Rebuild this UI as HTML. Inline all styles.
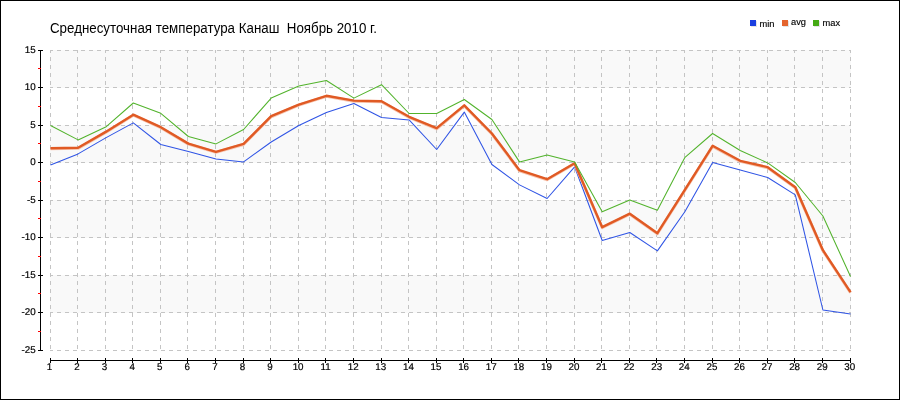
<!DOCTYPE html>
<html><head><meta charset="utf-8"><title>Среднесуточная температура Канаш Ноябрь 2010 г.</title>
<style>
html,body{margin:0;padding:0;background:#fff;}
body{width:900px;height:400px;overflow:hidden;}
svg{display:block;}
text{font-family:"Liberation Sans",sans-serif;fill:#000;}
.t{font-size:13.8px;}
.a{font-size:9.8px;stroke:#000;stroke-width:0.2px;text-rendering:geometricPrecision;}
.l{font-size:9.3px;stroke:#000;stroke-width:0.15px;}
</style></head><body>
<svg width="900" height="400" viewBox="0 0 900 400">
<rect x="0" y="0" width="900" height="400" fill="#fff"/>
<rect x="0.5" y="0.5" width="899" height="399" fill="none" stroke="#000" stroke-width="1" shape-rendering="crispEdges"/>

<rect x="50" y="50.0" width="801" height="37.5" fill="#f9f9f9" shape-rendering="crispEdges"/>
<rect x="50" y="125.0" width="801" height="37.5" fill="#f9f9f9" shape-rendering="crispEdges"/>
<rect x="50" y="200.0" width="801" height="37.5" fill="#f9f9f9" shape-rendering="crispEdges"/>
<rect x="50" y="275.0" width="801" height="37.5" fill="#f9f9f9" shape-rendering="crispEdges"/>
<g stroke="#c4c4c4" stroke-width="1" stroke-dasharray="4 4" stroke-dashoffset="1" shape-rendering="crispEdges" fill="none">
<line x1="50" y1="50.5" x2="851" y2="50.5"/>
<line x1="50" y1="87.5" x2="851" y2="87.5"/>
<line x1="50" y1="125.5" x2="851" y2="125.5"/>
<line x1="50" y1="162.5" x2="851" y2="162.5"/>
<line x1="50" y1="200.5" x2="851" y2="200.5"/>
<line x1="50" y1="237.5" x2="851" y2="237.5"/>
<line x1="50" y1="275.5" x2="851" y2="275.5"/>
<line x1="50" y1="312.5" x2="851" y2="312.5"/>
<line x1="50" y1="350.5" x2="851" y2="350.5"/>
<line x1="50.5" y1="50" x2="50.5" y2="351"/>
<line x1="77.5" y1="50" x2="77.5" y2="351"/>
<line x1="105.5" y1="50" x2="105.5" y2="351"/>
<line x1="132.5" y1="50" x2="132.5" y2="351"/>
<line x1="160.5" y1="50" x2="160.5" y2="351"/>
<line x1="187.5" y1="50" x2="187.5" y2="351"/>
<line x1="215.5" y1="50" x2="215.5" y2="351"/>
<line x1="243.5" y1="50" x2="243.5" y2="351"/>
<line x1="270.5" y1="50" x2="270.5" y2="351"/>
<line x1="298.5" y1="50" x2="298.5" y2="351"/>
<line x1="325.5" y1="50" x2="325.5" y2="351"/>
<line x1="353.5" y1="50" x2="353.5" y2="351"/>
<line x1="381.5" y1="50" x2="381.5" y2="351"/>
<line x1="408.5" y1="50" x2="408.5" y2="351"/>
<line x1="436.5" y1="50" x2="436.5" y2="351"/>
<line x1="463.5" y1="50" x2="463.5" y2="351"/>
<line x1="491.5" y1="50" x2="491.5" y2="351"/>
<line x1="518.5" y1="50" x2="518.5" y2="351"/>
<line x1="546.5" y1="50" x2="546.5" y2="351"/>
<line x1="574.5" y1="50" x2="574.5" y2="351"/>
<line x1="601.5" y1="50" x2="601.5" y2="351"/>
<line x1="629.5" y1="50" x2="629.5" y2="351"/>
<line x1="656.5" y1="50" x2="656.5" y2="351"/>
<line x1="684.5" y1="50" x2="684.5" y2="351"/>
<line x1="712.5" y1="50" x2="712.5" y2="351"/>
<line x1="739.5" y1="50" x2="739.5" y2="351"/>
<line x1="767.5" y1="50" x2="767.5" y2="351"/>
<line x1="794.5" y1="50" x2="794.5" y2="351"/>
<line x1="822.5" y1="50" x2="822.5" y2="351"/>
<line x1="850.5" y1="50" x2="850.5" y2="351"/>
</g>
<g stroke="#000" stroke-width="1" shape-rendering="crispEdges">
<line x1="40.5" y1="50" x2="40.5" y2="351"/>
<line x1="38" y1="50.5" x2="43" y2="50.5"/>
<line x1="38" y1="87.5" x2="43" y2="87.5"/>
<line x1="38" y1="125.5" x2="43" y2="125.5"/>
<line x1="38" y1="162.5" x2="43" y2="162.5"/>
<line x1="38" y1="200.5" x2="43" y2="200.5"/>
<line x1="38" y1="237.5" x2="43" y2="237.5"/>
<line x1="38" y1="275.5" x2="43" y2="275.5"/>
<line x1="38" y1="312.5" x2="43" y2="312.5"/>
<line x1="38" y1="350.5" x2="43" y2="350.5"/>
<line x1="50" y1="360.5" x2="851" y2="360.5"/>
<line x1="50.5" y1="358" x2="50.5" y2="363"/>
<line x1="77.5" y1="358" x2="77.5" y2="363"/>
<line x1="105.5" y1="358" x2="105.5" y2="363"/>
<line x1="132.5" y1="358" x2="132.5" y2="363"/>
<line x1="160.5" y1="358" x2="160.5" y2="363"/>
<line x1="187.5" y1="358" x2="187.5" y2="363"/>
<line x1="215.5" y1="358" x2="215.5" y2="363"/>
<line x1="243.5" y1="358" x2="243.5" y2="363"/>
<line x1="270.5" y1="358" x2="270.5" y2="363"/>
<line x1="298.5" y1="358" x2="298.5" y2="363"/>
<line x1="325.5" y1="358" x2="325.5" y2="363"/>
<line x1="353.5" y1="358" x2="353.5" y2="363"/>
<line x1="381.5" y1="358" x2="381.5" y2="363"/>
<line x1="408.5" y1="358" x2="408.5" y2="363"/>
<line x1="436.5" y1="358" x2="436.5" y2="363"/>
<line x1="463.5" y1="358" x2="463.5" y2="363"/>
<line x1="491.5" y1="358" x2="491.5" y2="363"/>
<line x1="518.5" y1="358" x2="518.5" y2="363"/>
<line x1="546.5" y1="358" x2="546.5" y2="363"/>
<line x1="574.5" y1="358" x2="574.5" y2="363"/>
<line x1="601.5" y1="358" x2="601.5" y2="363"/>
<line x1="629.5" y1="358" x2="629.5" y2="363"/>
<line x1="656.5" y1="358" x2="656.5" y2="363"/>
<line x1="684.5" y1="358" x2="684.5" y2="363"/>
<line x1="712.5" y1="358" x2="712.5" y2="363"/>
<line x1="739.5" y1="358" x2="739.5" y2="363"/>
<line x1="767.5" y1="358" x2="767.5" y2="363"/>
<line x1="794.5" y1="358" x2="794.5" y2="363"/>
<line x1="822.5" y1="358" x2="822.5" y2="363"/>
<line x1="850.5" y1="358" x2="850.5" y2="363"/>
</g>
<g stroke="#ff0000" stroke-width="1" shape-rendering="crispEdges">
<line x1="38" y1="68.5" x2="41" y2="68.5"/>
<line x1="38" y1="106.5" x2="41" y2="106.5"/>
<line x1="38" y1="143.5" x2="41" y2="143.5"/>
<line x1="38" y1="181.5" x2="41" y2="181.5"/>
<line x1="38" y1="218.5" x2="41" y2="218.5"/>
<line x1="38" y1="256.5" x2="41" y2="256.5"/>
<line x1="38" y1="293.5" x2="41" y2="293.5"/>
<line x1="38" y1="331.5" x2="41" y2="331.5"/>
</g>
<text class="a" x="35.7" y="53.0" text-anchor="end">15</text>
<text class="a" x="35.7" y="90.0" text-anchor="end">10</text>
<text class="a" x="35.7" y="128.0" text-anchor="end">5</text>
<text class="a" x="35.7" y="165.0" text-anchor="end">0</text>
<text class="a" x="35.7" y="203.0" text-anchor="end">-5</text>
<text class="a" x="35.7" y="240.0" text-anchor="end">-10</text>
<text class="a" x="35.7" y="278.0" text-anchor="end">-15</text>
<text class="a" x="35.7" y="315.0" text-anchor="end">-20</text>
<text class="a" x="35.7" y="353.0" text-anchor="end">-25</text>
<text class="a" x="49.4" y="370" text-anchor="middle">1</text>
<text class="a" x="77.0" y="370" text-anchor="middle">2</text>
<text class="a" x="104.6" y="370" text-anchor="middle">3</text>
<text class="a" x="132.2" y="370" text-anchor="middle">4</text>
<text class="a" x="159.7" y="370" text-anchor="middle">5</text>
<text class="a" x="187.3" y="370" text-anchor="middle">6</text>
<text class="a" x="214.9" y="370" text-anchor="middle">7</text>
<text class="a" x="242.5" y="370" text-anchor="middle">8</text>
<text class="a" x="270.1" y="370" text-anchor="middle">9</text>
<text class="a" x="298.1" y="370" text-anchor="middle">10</text>
<text class="a" x="325.7" y="370" text-anchor="middle">11</text>
<text class="a" x="353.2" y="370" text-anchor="middle">12</text>
<text class="a" x="380.8" y="370" text-anchor="middle">13</text>
<text class="a" x="408.4" y="370" text-anchor="middle">14</text>
<text class="a" x="436.0" y="370" text-anchor="middle">15</text>
<text class="a" x="463.6" y="370" text-anchor="middle">16</text>
<text class="a" x="491.2" y="370" text-anchor="middle">17</text>
<text class="a" x="518.8" y="370" text-anchor="middle">18</text>
<text class="a" x="546.4" y="370" text-anchor="middle">19</text>
<text class="a" x="573.9" y="370" text-anchor="middle">20</text>
<text class="a" x="601.5" y="370" text-anchor="middle">21</text>
<text class="a" x="629.1" y="370" text-anchor="middle">22</text>
<text class="a" x="656.7" y="370" text-anchor="middle">23</text>
<text class="a" x="684.3" y="370" text-anchor="middle">24</text>
<text class="a" x="711.9" y="370" text-anchor="middle">25</text>
<text class="a" x="739.5" y="370" text-anchor="middle">26</text>
<text class="a" x="767.0" y="370" text-anchor="middle">27</text>
<text class="a" x="794.6" y="370" text-anchor="middle">28</text>
<text class="a" x="822.2" y="370" text-anchor="middle">29</text>
<text class="a" x="849.8" y="370" text-anchor="middle">30</text>
<polyline points="50.5,164.9 78.1,153.9 105.7,137.9 133.3,122.9 160.8,144.5 188.4,151.5 216.0,158.9 243.6,161.9 271.2,142.0 298.8,125.5 326.4,112.5 353.9,103.5 381.5,117.5 409.1,119.9 436.7,149.5 464.3,112.1 491.9,164.5 519.5,184.9 547.1,198.5 574.6,166.8 602.2,240.5 629.8,232.5 657.4,250.9 685.0,211.5 712.6,162.5 740.2,169.9 767.7,177.5 795.3,194.9 822.9,310.0 850.5,314.0" fill="none" stroke="#2f54e5" stroke-width="1.05" stroke-linejoin="round"/>
<polyline points="50.5,148.5 78.1,148.1 105.7,132.2 133.3,115.0 160.8,127.5 188.4,143.9 216.0,152.1 243.6,144.2 271.2,116.5 298.8,104.9 326.4,96.1 353.9,100.9 381.5,101.5 409.1,117.1 436.7,128.5 464.3,105.6 491.9,133.8 519.5,170.5 547.1,179.5 574.6,163.5 602.2,227.5 629.8,214.0 657.4,233.5 685.0,190.0 712.6,146.1 740.2,161.1 767.7,167.5 795.3,187.5 822.9,250.5 850.5,292.5" fill="none" stroke="#f7c4ae" stroke-width="2.9" stroke-linejoin="round" transform="translate(0,0.3)"/>
<polyline points="50.5,148.5 78.1,148.1 105.7,132.2 133.3,115.0 160.8,127.5 188.4,143.9 216.0,152.1 243.6,144.2 271.2,116.5 298.8,104.9 326.4,96.1 353.9,100.9 381.5,101.5 409.1,117.1 436.7,128.5 464.3,105.6 491.9,133.8 519.5,170.5 547.1,179.5 574.6,163.5 602.2,227.5 629.8,214.0 657.4,233.5 685.0,190.0 712.6,146.1 740.2,161.1 767.7,167.5 795.3,187.5 822.9,250.5 850.5,292.5" fill="none" stroke="#e05a24" stroke-width="2.4" stroke-linejoin="round" transform="translate(0,-0.3)"/>
<polyline points="50.5,125.5 78.1,139.9 105.7,127.1 133.3,103.0 160.8,113.3 188.4,136.5 216.0,143.9 243.6,129.5 271.2,98.1 298.8,86.1 326.4,80.5 353.9,98.1 381.5,84.7 409.1,113.5 436.7,113.5 464.3,99.5 491.9,119.5 519.5,161.9 547.1,155.1 574.6,161.9 602.2,211.8 629.8,199.9 657.4,210.2 685.0,157.3 712.6,133.5 740.2,150.5 767.7,162.9 795.3,182.5 822.9,216.0 850.5,276.5" fill="none" stroke="#52b32c" stroke-width="1.05" stroke-linejoin="round"/>
<text class="t" x="50" y="33" textLength="327" lengthAdjust="spacingAndGlyphs" xml:space="preserve" style="white-space:pre">Среднесуточная температура Канаш  Ноябрь 2010 г.</text>
<rect x="750" y="21" width="6" height="6" fill="#e4e4e4" transform="translate(1,0)"/>
<rect x="750" y="20" width="6" height="6" fill="#1a3ee0"/>
<text class="l" x="759.5" y="27.0">min</text>
<rect x="782" y="21" width="6" height="6" fill="#e4e4e4" transform="translate(1,0)"/>
<rect x="782" y="20" width="6" height="6" fill="#e4642d"/>
<text class="l" x="791.0" y="25.0">avg</text>
<rect x="813" y="21" width="6" height="6" fill="#e4e4e4" transform="translate(1,0)"/>
<rect x="813" y="20" width="6" height="6" fill="#44aa14"/>
<text class="l" x="822.5" y="26.0">max</text>
</svg></body></html>
